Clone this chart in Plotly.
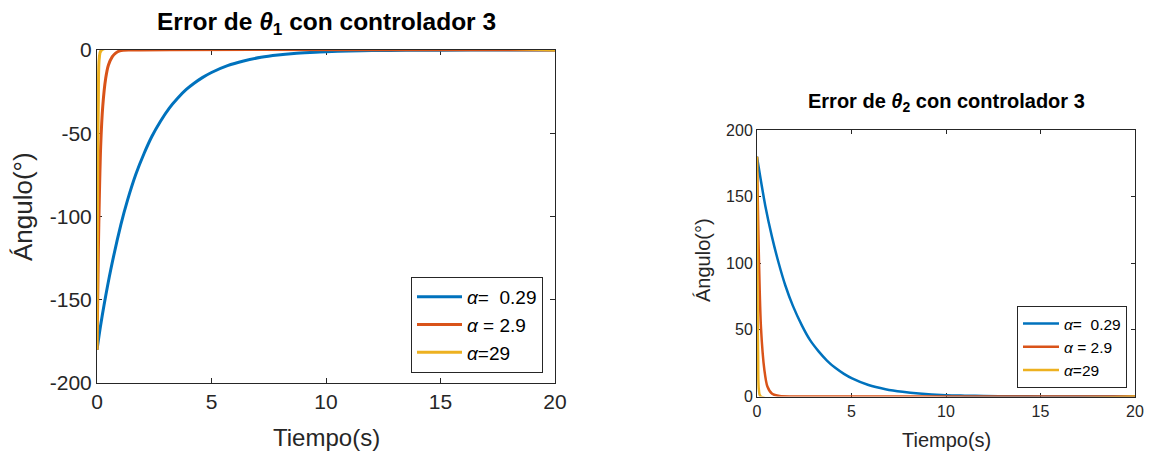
import plotly.graph_objects as go

# ---------------- data ----------------
series_names = ["<i>α</i>=  0.29", "<i>α</i> = 2.9", "<i>α</i>=29"]
colors = ["#0072BD", "#D95319", "#EDB120"]

# theta_1 error
t1_blue = [0, 0.15, 0.31, 0.6, 1.04, 1.33, 1.7, 2.06, 2.4, 2.78, 3.15, 3.51, 3.9, 4.24, 4.6, 5.0,
           5.7, 6.4, 7.16, 7.9, 8.6, 9.3, 10, 11, 12, 13.5, 15, 17.5, 20]
e1_blue = [-180, -166, -153, -132, -105, -90.3, -74.5, -62, -51.8, -42.6, -35, -29.1, -23.7, -20, -16.6,
           -13.5, -9.4, -6.6, -4.4, -3.0, -2.1, -1.5, -1.0, -0.6, -0.36, -0.17, -0.08, -0.02, 0]
t1_red = [0, 0.03, 0.06, 0.1, 0.16, 0.25, 0.38, 0.5, 0.67, 0.8, 1.0, 1.5, 20]
e1_red = [-180, -150, -120, -90, -58, -34, -17, -9, -4, -2, -0.5, 0, 0]
t1_yel = [0, 0.01, 0.02, 0.04, 0.06, 0.1, 0.2, 20]
e1_yel = [-180, -140, -100, -55, -30, -5, 0, 0]

# theta_2 error
t2_blue = [0, 0.09, 0.44, 0.79, 1.15, 1.5, 1.9, 2.38, 2.8, 3.26, 3.7, 4.14, 4.6, 5.03, 5.9, 6.8,
           7.7, 8.57, 10, 11, 12, 13.5, 15, 17.5, 20]
e2_blue = [180, 172, 143, 120, 100, 83.3, 68, 53.2, 42.5, 33.9, 27, 21.5, 17, 13.6, 8.6, 5.5,
           3.5, 2.2, 1.0, 0.65, 0.4, 0.18, 0.08, 0.02, 0]
t2_red = [0, 0.05, 0.1, 0.21, 0.39, 0.55, 0.8, 1.2, 2.0, 20]
e2_red = [180, 140, 105, 52, 20, 7.5, 2, 0.3, 0, 0]
t2_yel = [0, 0.01, 0.02, 0.04, 0.06, 0.1, 0.2, 20]
e2_yel = [180, 140, 100, 55, 30, 5, 0, 0]

x_ticks = [0, 5, 10, 15, 20]
y1_ticks = [-200, -150, -100, -50, 0]
y2_ticks = [0, 50, 100, 150, 200]

# ---------------- figure ----------------
OFF = 8                      # page body margin
W, H = 1155 - OFF, 456 - OFF
FONT = "Liberation Sans, Arial, Helvetica, sans-serif"
AX = "#262626"

fig = go.Figure()

left = [(t1_blue, e1_blue), (t1_red, e1_red), (t1_yel, e1_yel)]
right = [(t2_blue, e2_blue), (t2_red, e2_red), (t2_yel, e2_yel)]

for i, ((t, e), name, c) in enumerate(zip(left, series_names, colors)):
    fig.add_trace(go.Scatter(x=t, y=e, mode="lines", name=name, legendgroup=f"a{i}",
                             line=dict(color=c, width=3, shape="spline", smoothing=0.8),
                             xaxis="x", yaxis="y", legend="legend"))
for i, ((t, e), name, c) in enumerate(zip(right, series_names, colors)):
    fig.add_trace(go.Scatter(x=t, y=e, mode="lines", name=name, legendgroup=f"b{i}",
                             line=dict(color=c, width=2.5, shape="spline", smoothing=0.8),
                             xaxis="x2", yaxis="y2", legend="legend2"))

def px(x):
    return (x - OFF) / W

def py(y):
    return 1 - (y - OFF) / H

common = dict(showline=True, linecolor=AX, linewidth=1, mirror="ticks",
              ticks="inside", tickcolor=AX, showgrid=False, zeroline=False,
              layer="below traces", automargin=False)

fig.update_layout(
    width=W, height=H,
    margin=dict(l=0, r=0, t=0, b=0, autoexpand=False),
    paper_bgcolor="white", plot_bgcolor="white",
    font=dict(family=FONT, color=AX),
    xaxis=dict(domain=[px(97), px(555)], range=[0, 20], tickvals=x_ticks,
               ticktext=[str(v) for v in x_ticks], ticklen=5,
               tickfont=dict(size=21, color=AX), anchor="y", **common),
    yaxis=dict(domain=[py(383), py(50)], range=[-200, 0], tickvals=y1_ticks,
               ticktext=[str(v) for v in y1_ticks], ticklen=5,
               tickfont=dict(size=21, color=AX), anchor="x", **common),
    xaxis2=dict(domain=[px(757), px(1135)], range=[0, 20], tickvals=x_ticks,
                ticktext=[str(v) for v in x_ticks], ticklen=4,
                tickfont=dict(size=16, color=AX), anchor="y2", **common),
    yaxis2=dict(domain=[py(396.5), py(130)], range=[0, 200], tickvals=y2_ticks,
                ticktext=[str(v) for v in y2_ticks], ticklen=4,
                tickfont=dict(size=16, color=AX), anchor="x2", **common),
    legend=dict(x=px(543), y=py(373), xanchor="right", yanchor="bottom",
                bgcolor="white", bordercolor=AX, borderwidth=1,
                font=dict(size=19, color="black", family=FONT),
                itemwidth=45, tracegroupgap=0),
    legend2=dict(x=px(1127), y=py(388), xanchor="right", yanchor="bottom",
                 bgcolor="white", bordercolor=AX, borderwidth=1,
                 font=dict(size=15.5, color="black", family=FONT),
                 itemwidth=36, tracegroupgap=0),
    showlegend=True,
)

ann = [
    dict(x=px(326), y=py(24), text="<b>Error de <i>θ</i><sub>1</sub> con controlador 3</b>",
         font=dict(size=24.5, color="black")),
    dict(x=px(946), y=py(102), text="<b>Error de <i>θ</i><sub>2</sub> con controlador 3</b>",
         font=dict(size=20, color="black")),
    dict(x=px(326), y=py(437), text="Tiempo(s)", font=dict(size=24, color=AX)),
    dict(x=px(946), y=py(440), text="Tiempo(s)", font=dict(size=20, color=AX)),
    dict(x=px(23), y=py(207), text="Ángulo(°)", textangle=-90, font=dict(size=26, color=AX)),
    dict(x=px(703), y=py(260), text="Ángulo(°)", textangle=-90, font=dict(size=20, color=AX)),
]
for a in ann:
    a.update(xref="paper", yref="paper", showarrow=False, xanchor="center", yanchor="middle")
fig.update_layout(annotations=ann)

fig.write_html("out.html")
